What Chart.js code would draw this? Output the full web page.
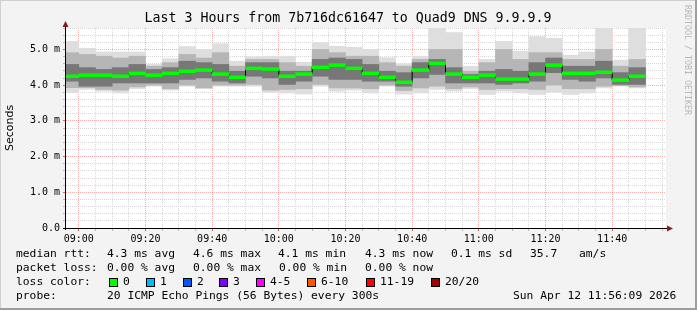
<!DOCTYPE html>
<html>
<head>
<meta charset="utf-8">
<title>Last 3 Hours from 7b716dc61647 to Quad9 DNS 9.9.9.9</title>
<script src="https://cdn.jsdelivr.net/npm/chart.js"></script>
<style>
  body { margin: 0; background: #f3f3f3; }
</style>
</head>
<body>
<canvas id="smoke" width="697" height="310"></canvas>
<script>
// 5 minute buckets (start time of each step)
const bucketStart = ['08:55', '09:00', '09:05', '09:10', '09:15', '09:20', '09:25', '09:30', '09:35', '09:40',
  '09:45', '09:50', '09:55', '10:00', '10:05', '10:10', '10:15', '10:20', '10:25', '10:30',
  '10:35', '10:40', '10:45', '10:50', '10:55', '11:00', '11:05', '11:10', '11:15', '11:20',
  '11:25', '11:30', '11:35', '11:40', '11:45'];

// smoke, in ms: outer envelope, middle band, dark core
const pingMax = [5.23, 5.03, 4.93, 4.93, 4.93, 4.58, 4.74, 5.08, 5.00, 5.16, 4.67, 4.79, 4.81,
  4.81, 4.64, 5.19, 5.09, 5.06, 5.00, 4.77, 4.60, 4.81, 5.59, 5.47, 4.53,
  4.72, 5.23, 4.95, 5.36, 5.31, 4.84, 4.93, 5.59, 4.70, 5.59];
const pingHi = [4.91, 4.86, 4.81, 4.76, 4.81, 4.53, 4.63, 4.86, 4.76, 4.91, 4.53, 4.72, 4.72,
  4.63, 4.53, 5.00, 4.91, 4.81, 4.81, 4.63, 4.53, 4.72, 5.00, 5.00, 4.39,
  4.63, 5.00, 4.72, 4.91, 4.91, 4.72, 4.72, 5.00, 4.53, 4.72];
const coreHi = [4.58, 4.49, 4.44, 4.49, 4.58, 4.44, 4.49, 4.67, 4.63, 4.58, 4.39, 4.63, 4.63,
  4.39, 4.39, 4.72, 4.76, 4.72, 4.58, 4.39, 4.35, 4.63, 4.72, 4.49, 4.30,
  4.39, 4.44, 4.39, 4.63, 4.76, 4.53, 4.53, 4.67, 4.35, 4.49];
const median = [4.25, 4.28, 4.28, 4.25, 4.33, 4.28, 4.33, 4.39, 4.42, 4.31, 4.22, 4.47, 4.45,
  4.25, 4.31, 4.50, 4.56, 4.47, 4.33, 4.22, 4.08, 4.42, 4.61, 4.31, 4.22,
  4.28, 4.17, 4.17, 4.31, 4.56, 4.33, 4.33, 4.36, 4.14, 4.25];
const coreLo = [4.11, 3.97, 3.97, 4.06, 4.06, 4.06, 4.06, 4.16, 4.20, 4.11, 4.06, 4.25, 4.20,
  4.02, 4.11, 4.25, 4.16, 4.16, 4.11, 4.11, 3.97, 4.20, 4.30, 4.06, 4.06,
  4.06, 4.02, 4.06, 4.11, 4.35, 4.16, 4.11, 4.20, 4.02, 4.02];
const pingLo = [3.93, 3.93, 3.88, 3.86, 3.95, 4.00, 3.90, 4.00, 3.92, 4.00, 4.00, 4.02, 3.86,
  3.88, 3.90, 4.02, 3.92, 3.92, 3.90, 4.00, 3.85, 3.92, 3.97, 3.90, 3.95,
  3.88, 3.90, 3.90, 3.88, 4.00, 3.90, 3.90, 3.97, 3.99, 3.95];
const pingMin = [3.79, 3.88, 3.83, 3.78, 3.90, 3.97, 3.86, 3.97, 3.91, 3.97, 3.97, 3.97, 3.80,
  3.78, 3.75, 3.97, 3.83, 3.86, 3.78, 3.97, 3.75, 3.78, 3.88, 3.83, 3.90,
  3.74, 3.83, 3.78, 3.74, 3.80, 3.74, 3.78, 3.92, 3.97, 3.92];

const windowStart = '08:56:09';
const windowEnd = '11:56:09';
const xTickLabels = ['09:00', '09:20', '09:40', '10:00', '10:20', '10:40', '11:00', '11:20', '11:40'];
const yTickLabels = ['0.0', '1.0 m', '2.0 m', '3.0 m', '4.0 m', '5.0 m'];

const lossLabels = ['0', '1', '2', '3', '4-5', '6-10', '11-19', '20/20'];
const lossColors = ['#00ff00', '#00b8ff', '#0059ff', '#7e00ff', '#ff00ff', '#ff5500', '#ff0000', '#a10000'];

const MONO = "'DejaVu Sans Mono', monospace";
const GRID_MINOR = 'rgba(200,200,200,0.7)';
const GRID_MAJOR = 'rgba(240,140,140,0.7)';

function toMin(t) {
  const p = t.split(':').map(Number);
  return p[0] * 60 + p[1] + (p[2] || 0) / 60;
}
function hhmm(v) {
  const h = Math.floor(v / 60), m = Math.round(v % 60);
  return String(h).padStart(2, '0') + ':' + String(m).padStart(2, '0');
}
const isWhole = v => Math.abs(v - Math.round(v)) < 1e-6;
const xMajor = c => c.tick && xTickLabels.includes(hhmm(c.tick.value));
const yMajor = c => c.tick && isWhole(c.tick.value);

const step = 5;
const xs = bucketStart.map(t => toMin(t) + step / 2);
const band = (lo, hi) => xs.map((x, i) => ({ x: x, y: [lo[i], hi[i]] }));
const barBase = { type: 'bar', grouped: false, barPercentage: 1, categoryPercentage: 1, borderWidth: 0 };

const rrdDecor = {
  id: 'rrdDecor',
  beforeDraw(chart) {
    const { ctx, chartArea: a } = chart;
    ctx.save();
    ctx.fillStyle = '#f3f3f3';
    ctx.fillRect(0, 0, 697, 310);
    ctx.fillStyle = '#cfcfcf';
    ctx.fillRect(0, 0, 697, 1);
    ctx.fillRect(0, 0, 1, 310);
    ctx.fillStyle = '#9e9e9e';
    ctx.fillRect(695, 0, 2, 310);
    ctx.fillRect(0, 308, 697, 2);
    ctx.fillStyle = '#ffffff';
    ctx.fillRect(a.left, a.top, a.right - a.left, a.bottom - a.top);
    ctx.restore();
  },
  afterDraw(chart) {
    const { ctx, chartArea: a } = chart;
    ctx.save();
    // axes
    ctx.strokeStyle = '#000';
    ctx.lineWidth = 1;
    ctx.beginPath();
    ctx.moveTo(a.left - 0.5, a.bottom + 2);
    ctx.lineTo(a.left - 0.5, a.top - 4);
    ctx.moveTo(a.left - 3, a.bottom + 0.5);
    ctx.lineTo(a.right + 4, a.bottom + 0.5);
    ctx.stroke();
    ctx.fillStyle = '#8b1a1a';
    ctx.beginPath();
    ctx.moveTo(a.left - 0.5, a.top - 7);
    ctx.lineTo(a.left - 3.5, a.top - 1);
    ctx.lineTo(a.left + 2.5, a.top - 1);
    ctx.fill();
    ctx.beginPath();
    ctx.moveTo(a.right + 7, a.bottom + 0.5);
    ctx.lineTo(a.right + 1, a.bottom - 2.5);
    ctx.lineTo(a.right + 1, a.bottom + 3.5);
    ctx.fill();

    // title
    ctx.fillStyle = '#000';
    ctx.textBaseline = 'middle';
    ctx.textAlign = 'center';
    ctx.font = '13.25px ' + MONO;
    ctx.fillText('Last 3 Hours from 7b716dc61647 to Quad9 DNS 9.9.9.9', 348, 19);

    // y title
    ctx.save();
    ctx.translate(10, (a.top + a.bottom) / 2);
    ctx.rotate(-Math.PI / 2);
    ctx.font = "11px 'DejaVu Sans', sans-serif";
    ctx.fillText('Seconds', 0, 0);
    ctx.restore();

    // watermark
    ctx.save();
    ctx.translate(687, 5);
    ctx.rotate(Math.PI / 2);
    ctx.textAlign = 'left';
    ctx.fillStyle = '#b8b8b8';
    ctx.font = '8.3px ' + MONO;
    ctx.fillText('RRDTOOL / TOBI OETIKER', 0, 0);
    ctx.restore();

    // legend
    ctx.textAlign = 'left';
    ctx.fillStyle = '#000';
    ctx.font = '11.3px ' + MONO;
    const rows = [
      [254, [[16, 'median rtt:'], [107, '4.3 ms avg'], [193, '4.6 ms max'], [278, '4.1 ms min'],
        [365, '4.3 ms now'], [451, '0.1 ms sd'], [530, '35.7'], [579, 'am/s']]],
      [268, [[16, 'packet loss:'], [107, '0.00 % avg'], [193, '0.00 % max'], [279, '0.00 % min'],
        [365, '0.00 % now']]],
      [282, [[16, 'loss color:']]],
      [296, [[16, 'probe:'], [107, '20 ICMP Echo Pings (56 Bytes) every 300s'],
        [513, 'Sun Apr 12 11:56:09 2026']]]
    ];
    rows.forEach(([y, items]) => items.forEach(([x, s]) => ctx.fillText(s, x, y)));
    const boxX = [109, 146, 183, 219, 256, 307, 366, 431];
    lossLabels.forEach((lab, i) => {
      ctx.fillStyle = lossColors[i];
      ctx.fillRect(boxX[i], 278, 8, 8);
      ctx.strokeStyle = '#000';
      ctx.strokeRect(boxX[i] + 0.5, 278.5, 8, 8);
      ctx.fillStyle = '#000';
      ctx.fillText(lab, boxX[i] + 14, 282);
    });
    ctx.restore();
  }
};

new Chart(document.getElementById('smoke'), {
  type: 'bar',
  data: {
    datasets: [
      Object.assign({}, barBase, { data: band(pingMin, pingMax), backgroundColor: '#dedede', order: 6 }),
      Object.assign({}, barBase, { data: band(pingLo, pingHi), backgroundColor: '#b6b6b6', order: 5 }),
      Object.assign({}, barBase, { data: band(coreLo, coreHi), backgroundColor: '#777777', order: 4 }),
      { type: 'line', data: xs.map((x, i) => ({ x: x, y: median[i] })), stepped: 'middle',
        borderColor: '#000', borderWidth: 1, pointRadius: 0, order: 3 },
      Object.assign({}, barBase, { data: band(median.map(m => m - 0.04), median.map(m => m + 0.04)),
        backgroundColor: '#00ff00', order: 2 })
    ]
  },
  options: {
    responsive: false,
    animation: false,
    events: [],
    layout: { padding: { top: 28, right: 31, left: 0, bottom: 0 } },
    plugins: { legend: { display: false }, tooltip: { enabled: false }, title: { display: false } },
    scales: {
      x: {
        type: 'linear',
        offset: false,
        min: toMin(windowStart),
        max: toMin(windowEnd),
        afterBuildTicks: s => {
          const t = [];
          for (let v = Math.ceil(s.min / step) * step; v <= s.max; v += step) t.push({ value: v });
          s.ticks = t;
        },
        afterFit: s => { s.height = 82; },
        grid: {
          offset: false,
          color: c => (xMajor(c) ? GRID_MAJOR : GRID_MINOR),
          tickColor: c => (xMajor(c) ? '#e06060' : '#bbbbbb'),
          tickLength: 3
        },
        border: { display: false, dash: [1, 1] },
        ticks: {
          autoSkip: false, maxRotation: 0, minRotation: 0, padding: 2,
          color: '#000', font: { family: MONO, size: 10 },
          callback: v => (xTickLabels.includes(hhmm(v)) ? hhmm(v) : '')
        }
      },
      y: {
        min: 0,
        max: 5.6,
        afterFit: s => { s.width = 66; },
        grid: {
          color: c => (yMajor(c) ? GRID_MAJOR : GRID_MINOR),
          tickColor: c => (yMajor(c) ? '#e06060' : '#bbbbbb'),
          tickLength: 3
        },
        border: { display: false, dash: [1, 1] },
        ticks: {
          stepSize: 0.2, autoSkip: false, padding: 3,
          color: '#000', font: { family: MONO, size: 10 },
          callback: v => (isWhole(v) ? yTickLabels[Math.round(v)] : '')
        }
      }
    }
  },
  plugins: [rrdDecor]
});
</script>
</body>
</html>
